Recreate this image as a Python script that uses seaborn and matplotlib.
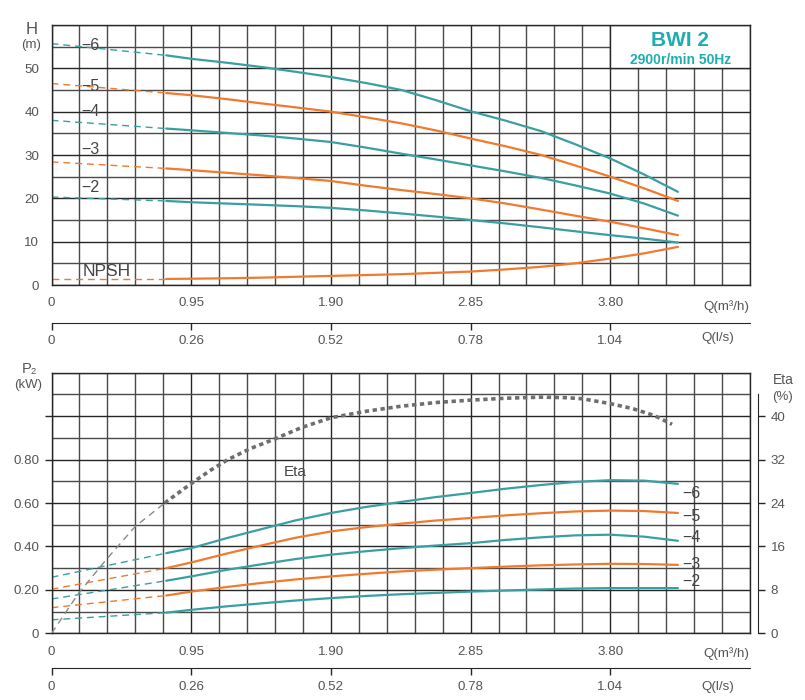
import numpy as np
import pandas as pd
import matplotlib
matplotlib.use('Agg')
import matplotlib.pyplot as plt
import seaborn as sns
from matplotlib.ticker import MultipleLocator, FixedLocator
from matplotlib.patches import Rectangle
from matplotlib.transforms import blended_transform_factory

sns.set_style('white')
plt.rcParams['font.family'] = ['Liberation Sans', 'DejaVu Sans']

# ---------------- data ----------------
q_dash = [0.0, 0.78]
q_solid = [0.78, 0.95, 1.19, 1.43, 1.66, 1.90, 2.14, 2.38, 2.61, 2.85,
           3.09, 3.33, 3.56, 3.80, 4.03, 4.26]

q_ticks = [0, 0.95, 1.90, 2.85, 3.80]
q_m3h_labels = ['0', '0.95', '1.90', '2.85', '3.80']
q_ls_labels = ['0', '0.26', '0.52', '0.78', '1.04']

stage_names = ['6', '5', '4', '3', '2']

# Head H (m)
h6_dash = [55.7, 53.0]
h6 = [53.0, 52.2, 51.3, 50.3, 49.2, 48.0, 46.6, 45.0, 42.7, 40.1, 37.9, 35.5, 32.5, 29.2, 25.5, 21.5]
h5_dash = [46.5, 44.3]
h5 = [44.3, 43.8, 42.9, 41.9, 41.0, 40.0, 38.7, 37.3, 35.7, 33.8, 32.0, 30.0, 27.6, 25.0, 22.3, 19.4]
h4_dash = [38.0, 36.1]
h4 = [36.1, 35.7, 35.1, 34.5, 33.8, 33.0, 31.7, 30.3, 29.0, 27.6, 26.2, 24.7, 23.0, 21.1, 18.8, 16.0]
h3_dash = [28.4, 26.9]
h3 = [26.9, 26.5, 25.9, 25.3, 24.7, 24.0, 22.9, 21.9, 21.0, 20.0, 18.8, 17.4, 16.0, 14.6, 13.1, 11.5]
h2_dash = [20.3, 19.4]
h2 = [19.4, 19.1, 18.8, 18.5, 18.2, 17.8, 17.2, 16.5, 15.8, 15.0, 14.2, 13.3, 12.4, 11.5, 10.7, 9.8]
npsh_dash = [1.4, 1.4]
npsh = [1.4, 1.45, 1.55, 1.7, 1.9, 2.1, 2.3, 2.5, 2.8, 3.1, 3.6, 4.2, 5.0, 6.1, 7.3, 8.8]

# Power P2 (kW)
p6_dash = [0.258, 0.369]
p6 = [0.369, 0.392, 0.438, 0.480, 0.520, 0.554, 0.582, 0.605, 0.627, 0.646, 0.666, 0.683, 0.697, 0.705, 0.703, 0.688]
p5_dash = [0.203, 0.300]
p5 = [0.300, 0.326, 0.367, 0.405, 0.440, 0.469, 0.489, 0.505, 0.519, 0.531, 0.543, 0.553, 0.561, 0.565, 0.563, 0.554]
p4_dash = [0.158, 0.242]
p4 = [0.242, 0.262, 0.292, 0.318, 0.342, 0.362, 0.378, 0.392, 0.404, 0.415, 0.430, 0.442, 0.451, 0.454, 0.445, 0.426]
p3_dash = [0.118, 0.174]
p3 = [0.174, 0.192, 0.213, 0.232, 0.248, 0.262, 0.274, 0.285, 0.293, 0.300, 0.307, 0.313, 0.317, 0.320, 0.319, 0.315]
p2_dash = [0.062, 0.095]
p2 = [0.095, 0.108, 0.124, 0.138, 0.151, 0.162, 0.172, 0.180, 0.186, 0.192, 0.197, 0.202, 0.206, 0.208, 0.208, 0.208]

# Efficiency (%)
q_eta_dash = [0.0, 0.185, 0.37, 0.57, 0.77]
eta_dash = [0.0, 7.4, 13.5, 19.7, 24.0]
q_eta = [0.77, 0.87, 0.956, 1.08, 1.20, 1.35, 1.51, 1.70, 1.90, 2.14, 2.37,
         2.61, 2.85, 3.09, 3.33, 3.50, 3.61, 3.80, 3.95, 4.10, 4.22]
eta = [24.0, 26.0, 27.7, 30.0, 32.0, 34.0, 35.7, 37.9, 39.7, 40.9, 41.8,
       42.5, 42.95, 43.3, 43.5, 43.4, 43.2, 42.3, 41.4, 40.1, 38.5]

# ---------------- style ----------------
TEAL = '#3a9fa2'
ORANGE = '#f07a2e'
TITLE = '#1eadb1'
GRID_MAJ = '#262626'
GRID_MIN = '#4a4a4a'
TXT = '#555555'
LBL = '#444444'

W, H = 805, 700
fig = plt.figure(figsize=(W / 100, H / 100), dpi=100)
fig.patch.set_facecolor('white')

def frac_box(x0, y0, x1, y1):
    return [x0 / W, 1 - y1 / H, (x1 - x0) / W, (y1 - y0) / H]

ax_h = fig.add_axes(frac_box(51.5, 25, 750, 285))
ax_p = fig.add_axes(frac_box(51.5, 372.7, 750, 633.3))

def style_axes(ax, ymaj, ymin, ylim, ylabels):
    ax.set_xlim(0, 4.75)
    ax.set_ylim(*ylim)
    ax.xaxis.set_major_locator(FixedLocator(q_ticks))
    ax.set_xticklabels(q_m3h_labels)
    ax.xaxis.set_minor_locator(MultipleLocator(0.19))
    ax.yaxis.set_major_locator(FixedLocator(ymaj))
    ax.set_yticklabels(ylabels)
    ax.yaxis.set_minor_locator(MultipleLocator(ymin))
    ax.set_axisbelow(True)
    ax.grid(which='major', color=GRID_MAJ, lw=1.0)
    ax.grid(which='minor', color=GRID_MIN, lw=1.0)
    for s in ax.spines.values():
        s.set_color(GRID_MAJ)
        s.set_linewidth(1.0)
    ax.tick_params(which='major', length=5, width=1, color=GRID_MAJ,
                   labelcolor=TXT, labelsize=9.6, pad=4, direction='out')
    ax.tick_params(which='minor', length=0)
    ax.set_xlabel('')
    ax.set_ylabel('')

def draw(ax, qd, yd, qs, ys, color, lw_solid=1.6):
    sns.lineplot(x=qd, y=yd, ax=ax, color=color, lw=1.0,
                 linestyle=(0, (5, 3.5)), errorbar=None, sort=False)
    sns.lineplot(x=qs, y=ys, ax=ax, color=color, lw=lw_solid,
                 errorbar=None, sort=False)

# ---------------- top: head ----------------
style_axes(ax_h, [0, 10, 20, 30, 40, 50], 5, (0, 60),
           ['0', '10', '20', '30', '40', '50'])

h_series = [(h6_dash, h6, TEAL), (h5_dash, h5, ORANGE), (h4_dash, h4, TEAL),
            (h3_dash, h3, ORANGE), (h2_dash, h2, TEAL)]
for d, s, c in h_series:
    draw(ax_h, q_dash, d, q_solid, s, c)
draw(ax_h, q_dash, npsh_dash, q_solid, npsh, ORANGE)

h_label_y = [55.3, 45.7, 40.0, 31.3, 22.4]
for name, yv in zip(stage_names, h_label_y):
    ax_h.text(0.20, yv, '\u2212' + name, fontsize=11.5, color=LBL,
              ha='left', va='center', zorder=5)
ax_h.text(0.21, 3.2, 'NPSH', fontsize=12.5, color=LBL, ha='left',
          va='center', zorder=5)

ax_h.add_patch(Rectangle((3.80, 50), 0.95, 10, facecolor='white',
                         edgecolor=GRID_MAJ, lw=1.0, zorder=1.5))
ax_h.text(4.275, 56.4, 'BWI 2', fontsize=15, fontweight='bold', color=TITLE,
          ha='center', va='center', zorder=3)
ax_h.text(4.275, 51.9, '2900r/min 50Hz', fontsize=10, fontweight='bold',
          color=TITLE, ha='center', va='center', zorder=3)

sec_h = ax_h.secondary_xaxis(-0.145)
sec_h.set_xticks(q_ticks, labels=q_ls_labels)
sec_h.tick_params(length=5, width=1, color=GRID_MAJ, labelcolor=TXT,
                  labelsize=9.6, pad=4)
sec_h.spines['bottom'].set_color(GRID_MAJ)

tr_h = blended_transform_factory(ax_h.transData, ax_h.transAxes)
ax_h.text(4.59, -21.7 / 260, 'Q(m³/h)', transform=tr_h, fontsize=9.6,
          color=TXT, ha='center', va='center')
ax_h.text(4.53, -(53.5) / 260, 'Q(l/s)', transform=tr_h, fontsize=9.6,
          color=TXT, ha='center', va='center')

fig.text(31.7 / W, 1 - 30 / H, 'H', fontsize=12, color=TXT, ha='center', va='center')
fig.text(30.7 / W, 1 - 45 / H, '(m)', fontsize=9.5, color=TXT, ha='center', va='center')

# ---------------- bottom: power & efficiency ----------------
style_axes(ax_p, [0, 0.2, 0.4, 0.6, 0.8, 1.0], 0.1, (0, 1.2),
           ['0', '0.20', '0.40', '0.60', '0.80', ''])

p_series = [(p6_dash, p6, TEAL), (p5_dash, p5, ORANGE), (p4_dash, p4, TEAL),
            (p3_dash, p3, ORANGE), (p2_dash, p2, TEAL)]
for d, s, c in p_series:
    draw(ax_p, q_dash, d, q_solid, s, c)

p_label_y = [0.646, 0.540, 0.440, 0.318, 0.238]
for name, yv in zip(stage_names, p_label_y):
    ax_p.text(4.29, yv, '\u2212' + name, fontsize=11.5, color=LBL,
              ha='left', va='center', zorder=5)

ax_e = ax_p.twinx()
ax_e.set_ylim(0, 48)
ax_e.set_xlim(0, 4.75)
ax_e.grid(False)
for side in ['left', 'top', 'bottom']:
    ax_e.spines[side].set_visible(False)
ax_e.spines['right'].set_position(('outward', 6))
ax_e.spines['right'].set_bounds(0, 44)
ax_e.spines['right'].set_color(GRID_MAJ)
ax_e.set_yticks([0, 8, 16, 24, 32, 40])
ax_e.set_yticklabels(['0', '8', '16', '24', '32', '40'])
ax_e.tick_params(axis='y', length=5, width=1, color=GRID_MAJ, labelcolor=TXT,
                 labelsize=9.6, pad=4)
sns.lineplot(x=q_eta_dash, y=eta_dash, ax=ax_e, color='#8a8a8a', lw=1.0,
             linestyle=(0, (5, 3.5)), errorbar=None, sort=False)
sns.lineplot(x=q_eta, y=eta, ax=ax_e, color='#6e6e6e', lw=2.6,
             linestyle=(0, (1.2, 1.0)), errorbar=None, sort=False)
ax_e.set_ylabel('')
ax_e.set_xlabel('')
ax_e.text(1.66, 0.743 * 40, 'Eta', fontsize=11, color=LBL, ha='center', va='center')

sec_p = ax_p.secondary_xaxis(-0.134)
sec_p.set_xticks(q_ticks, labels=q_ls_labels)
sec_p.tick_params(length=5, width=1, color=GRID_MAJ, labelcolor=TXT,
                  labelsize=9.6, pad=4)
sec_p.spines['bottom'].set_color(GRID_MAJ)

tr_p = blended_transform_factory(ax_p.transData, ax_p.transAxes)
ax_p.text(4.59, -20.7 / 260.6, 'Q(m³/h)', transform=tr_p, fontsize=9.6,
          color=TXT, ha='center', va='center')
ax_p.text(4.53, -53.4 / 260.6, 'Q(l/s)', transform=tr_p, fontsize=9.6,
          color=TXT, ha='center', va='center')

fig.text(29 / W, 1 - 369 / H, 'P\u2082', fontsize=10.5, color=TXT, ha='center', va='center')
fig.text(28 / W, 1 - 385 / H, '(kW)', fontsize=9.5, color=TXT, ha='center', va='center')
fig.text(783 / W, 1 - 380 / H, 'Eta', fontsize=10, color=TXT, ha='center', va='center')
fig.text(782 / W, 1 - 396.7 / H, '(%)', fontsize=9.5, color=TXT, ha='center', va='center')

fig.savefig('out.png', dpi=100, facecolor='white')
